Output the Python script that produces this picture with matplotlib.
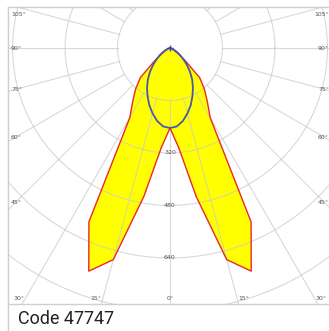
import numpy as np
import matplotlib
matplotlib.use("Agg")
import matplotlib.pyplot as plt
from matplotlib.lines import Line2D

# photometric data (cd), gamma angles in degrees
gamma = [0, 5, 10, 15, 20, 25, 30, 35, 40, 45, 50, 55, 60, 65, 70, 75, 80, 85, 90]
c0_180 = [244, 305, 460, 668, 724, 585, 245, 198, 163, 128, 62, 30, 15, 7, 4, 2, 1, 0, 0]
c90_270 = [244, 240, 226, 206, 185, 162, 140, 118, 95, 73, 53, 38, 25, 15, 8, 4, 2, 1, 0]

rings = [160, 320, 480, 640, 800, 960, 1120]
ring_labels = [320, 480, 640]
spoke_step = 15
side_labels = [105, 90, 75, 60, 45]
bottom_labels = [30, 15, 0]
caption = "Code 47747"


def to_xy(ang, r):
    a = np.radians(ang)
    return np.asarray(r) * np.sin(a), -np.asarray(r) * np.cos(a)


def full_curve(vals):
    g = np.array(gamma, dtype=float)
    v = np.array(vals, dtype=float)
    ang = np.concatenate((-g[::-1], g[1:]))
    r = np.concatenate((v[::-1], v[1:]))
    return to_xy(ang, r)


W, H = 329, 331
fig = plt.figure(figsize=(W / 100, H / 100), dpi=100)
# axes box in pixels (left, top, right, bottom), right edge runs past the image
L, T, R, B = 8, 7, 332, 304
ax = fig.add_axes([L / W, 1 - B / H, (R - L) / W, (B - T) / H])
scale = 0.328  # px per cd
cx, cy = 170, 48
ax.set_xlim((L - cx) / scale, (R - cx) / scale)
ax.set_ylim(-(B - cy) / scale, (cy - T) / scale)
ax.set_xticks([])
ax.set_yticks([])
for s in ax.spines.values():
    s.set_color("#cfcfcf")
    s.set_linewidth(1.0)

grid_kw = dict(color="#c8c8c8", lw=0.8, alpha=0.7, zorder=3)
t = np.linspace(0, 2 * np.pi, 400)
for rr in rings:
    ax.plot(rr * np.cos(t), rr * np.sin(t), **grid_kw)
for a in range(0, 360, spoke_step):
    x, y = to_xy([a, a], [rings[0], 2000])
    ax.plot(x, y, **grid_kw)

# C0-C180 plane
x0, y0 = full_curve(c0_180)
ax.fill(x0, y0, color="#ffff00", zorder=2, lw=0)
ax.plot(x0, y0, color="#e8282e", lw=1.0, zorder=4)
# C90-C270 plane
x9, y9 = full_curve(c90_270)
ax.plot(x9, y9, color="#4b58a6", lw=1.3, zorder=5)
ax.plot([0], [0], marker="+", color="#3a4ab0", ms=5, mew=1, zorder=6)

lab_kw = dict(fontsize=4.5, color="#555555", zorder=7)
for v in ring_labels:
    ax.text(0, -v, str(v), ha="center", va="center", **lab_kw)

xl, xr = ax.get_xlim()
yb, yt = ax.get_ylim()
pad = 7 / scale
for a in side_labels:
    yy = -(abs(xl) - pad) / np.tan(np.radians(a))
    yy = min(yy, yt - 8 / scale)
    ax.text(xl + 3 / scale, yy, "%d°" % a, ha="left", va="center", **lab_kw)
    ax.text(xr - 3 / scale, yy, "%d°" % a, ha="right", va="center", **lab_kw)
for a in bottom_labels:
    xx = (abs(yb) - 5 / scale) * np.tan(np.radians(a)) + 6.5 / scale * np.sign(a)
    ax.text(-xx, yb + 5 / scale, "%d°" % a, ha="center", va="center", **lab_kw)
    if a != 0:
        ax.text(xx, yb + 5 / scale, "%d°" % a, ha="center", va="center", **lab_kw)

# left border continues under the plot box
fig.add_artist(Line2D([L / W, L / W], [0, 1 - B / H], color="#cfcfcf", lw=1.0))
fig.text(18 / W, 1 - 324 / H, caption, fontsize=13, color="#222222",
         family="Roboto", ha="left", va="baseline")

fig.savefig("out.png", dpi=100)
